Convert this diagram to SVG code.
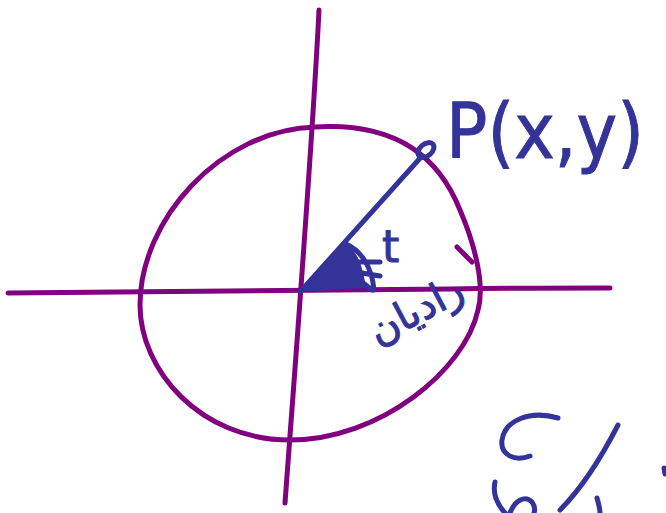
<svg xmlns="http://www.w3.org/2000/svg" width="666" height="513" viewBox="0 0 666 513">
<style>
.pur{fill:none;stroke:#800080;stroke-width:5;stroke-linecap:round;stroke-linejoin:round}
.blu{fill:none;stroke:#333399;stroke-width:5;stroke-linecap:round;stroke-linejoin:round}
.lbl{fill:#333399;stroke:#333399;stroke-width:1;font-family:"DejaVu Sans","Liberation Sans",sans-serif}
</style>
<rect width="666" height="513" fill="#ffffff"/>
<g id="axes">
<path class="pur" d="M8,293 C150,292 300,291 450,289 C520,288 570,288 610,288"/>
<path class="pur" d="M319,10 C312,150 300,300 285,503"/>
</g>
<g id="circle">
<path class="pur" d="M315,127 C400,122 440,160 460,210 C475,245 485,285 478,310 C465,370 380,440 290,440 C200,440 140,370 140,305 C140,220 220,130 315,127 Z"/>
<path class="pur" d="M457,247 L472,262"/>
</g>
<g id="connectors">
<path class="blu" d="M300,292 L422,156"/>
<ellipse cx="426" cy="150" rx="9" ry="6" transform="rotate(-40 426 150)" class="blu"/>
<path d="M300,292 L346,244 C356,250 362,262 366,288 Z" fill="#333399"/>
<path class="blu" stroke-width="4" d="M346,244 C360,250 372,266 374,290 M352,262 L380,262 M356,272 L380,276 M362,282 L372,290"/>
</g>
<g id="labels">
<text class="lbl" x="446" y="158" font-size="76" textLength="198" lengthAdjust="spacingAndGlyphs" font-family="Liberation Sans">P(x,y)</text>
<text class="lbl" x="382" y="262" font-size="44">t</text>
<text class="lbl" x="422" y="322" font-size="40" text-anchor="middle" transform="rotate(-28 422 322)">رادیان</text>
</g>
<g id="scribbles">
<path class="blu" d="M558,418 C530,410 505,420 502,440 C500,455 515,462 530,456"/>
<path class="blu" d="M618,425 C600,460 580,490 560,510"/>
<path class="blu" d="M495,482 C492,495 498,505 505,513"/>
<path class="blu" d="M510,513 C515,500 525,495 532,502 C535,506 535,510 534,513"/>
<path class="blu" d="M597,498 C599,505 600,510 600,513"/>
<path class="blu" d="M664,468 L665,474"/>
</g>
</svg>
